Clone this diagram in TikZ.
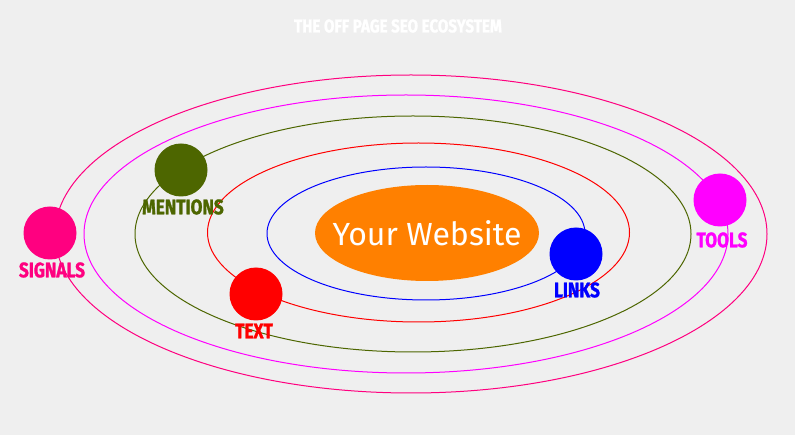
\documentclass[tikz,border=0pt]{standalone}
\usepackage{fontspec}
\setmainfont{Fira Sans}
\newfontfamily\planetfont[FakeStretch=0.82, FakeBold=1.2]{Fira Sans}
\usetikzlibrary{shapes.geometric, positioning}

\definecolor{bggray}{HTML}{EFEFEF}
\definecolor{sunorange}{HTML}{FF8000}
\definecolor{signalpink}{HTML}{FF0080}
\definecolor{mentionolive}{HTML}{4D6600}
\definecolor{toolmagenta}{HTML}{FF00FF}
\definecolor{linkblue}{HTML}{0000FF}
\definecolor{textred}{HTML}{FF0000}

\begin{document}
\begin{tikzpicture}[
  x=1pt, y=-1pt,
  orbit/.style={line width=1pt},
  planet/.style={
    circle, inner sep=0pt, minimum size=53pt, fill=#1
  },
  planetlabel/.style={
    font=\planetfont\bfseries\fontsize{21}{21}\selectfont, text=#1, inner sep=0pt
  },
  website/.style={
    ellipse, fill=sunorange, minimum width=224pt, minimum height=96pt, inner sep=0pt,
    label={[text=white, font=\fontsize{32}{32}\selectfont]center:Your Website}
  }
]

% ----------------- BACKGROUND -----------------
\fill[bggray] (0,0) rectangle (795,435);
\useasboundingbox (0,0) rectangle (795,435);

\node[font=\planetfont\bfseries\fontsize{18.5}{18.5}\selectfont, text=white] (title) at (398,26) {THE OFF PAGE SEO ECOSYSTEM};

% ----------------- ORBITS -----------------
\draw[orbit, draw=signalpink] (411,234) ellipse [x radius=356, y radius=159];
\draw[orbit, draw=toolmagenta] (406,234) ellipse [x radius=322, y radius=139];
\draw[orbit, draw=mentionolive] (413,234) ellipse [x radius=278, y radius=118];
\draw[orbit, draw=textred] (418.5,232.5) ellipse [x radius=211, y radius=89.5];
\draw[orbit, draw=linkblue] (426,233.5) ellipse [x radius=159, y radius=66.5];

% ----------------- CENTRE -----------------
\node[website] (site) at (427,233) {};

% ----------------- PLANETS -----------------
\node[planet=signalpink] (signals) at (50,233) {};
\node[planet=mentionolive] (mentions) at (181,170) {};
\node[planet=textred] (text) at (256,294) {};
\node[planet=linkblue] (links) at (576,254) {};
\node[planet=toolmagenta] (tools) at (720,200) {};

\node[planetlabel=signalpink] (signals_lbl) at (52,270) {SIGNALS};
\node[planetlabel=mentionolive] (mentions_lbl) at (183,207) {MENTIONS};
\node[planetlabel=textred] (text_lbl) at (254,331) {TEXT};
\node[planetlabel=linkblue] (links_lbl) at (577,290) {LINKS};
\node[planetlabel=toolmagenta] (tools_lbl) at (722,240) {TOOLS};

\end{tikzpicture}
\end{document}
